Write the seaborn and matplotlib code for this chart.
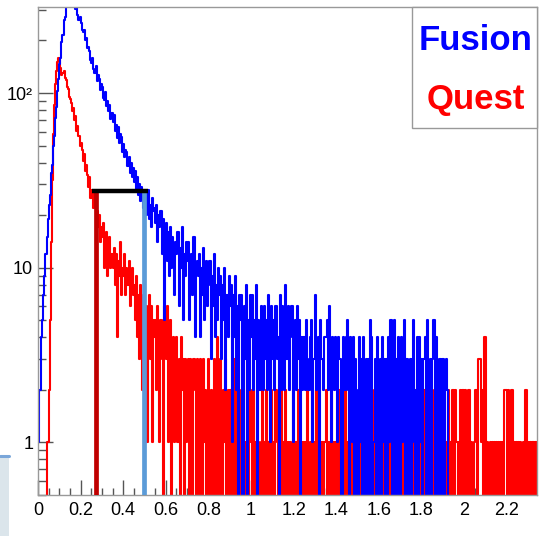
import numpy as np
import pandas as pd
import matplotlib
matplotlib.use("Agg")
import matplotlib.pyplot as plt
import seaborn as sns
from matplotlib.patches import Rectangle
from matplotlib.lines import Line2D
from matplotlib.ticker import FixedLocator, LogLocator, NullFormatter, MultipleLocator

# ---------------- data (bin width 0.005, starting at 0) ----------------
bin_width = 0.005

fusion_counts = [
    1, 2, 2, 4, 5, 7, 9, 12, 15, 19,
    23, 26, 35, 39, 50, 57, 72, 83, 103, 120,
    146, 158, 197, 214, 262, 271, 318, 341, 329, 356,
    342, 361, 333, 339, 331, 304, 309, 279, 262, 271,
    253, 231, 224, 229, 201, 207, 181, 184, 175, 154,
    149, 158, 137, 131, 142, 118, 127, 120, 104, 113,
    109, 94, 91, 101, 84, 90, 79, 86, 71, 77,
    68, 75, 61, 66, 55, 64, 52, 58, 56, 46,
    51, 43, 47, 46, 38, 43, 35, 40, 33, 37,
    31, 36, 28, 33, 26, 30, 24, 29, 27, 22,
    27, 20, 25, 28, 19, 23, 17, 25, 21, 22,
    18, 23, 14, 20, 17, 21, 12, 19, 5, 17,
    18, 11, 16, 9, 17, 10, 15, 12, 7, 14,
    12, 16, 6, 13, 10, 17, 5, 12, 9, 14,
    11, 14, 5, 9, 12, 7, 15, 4, 10, 11,
    9, 12, 4, 10, 7, 13, 5, 9, 11, 6,
    8, 11, 3, 9, 6, 12, 4, 8, 5, 10,
    7, 9, 3, 8, 5, 10, 2, 7, 4, 9,
    6, 8, 1, 7, 4, 9, 2, 6, 0, 7,
    5, 7, 0, 6, 3, 8, 0, 5, 2, 7,
    4, 7, 2, 5, 3, 8, 0, 5, 2, 6,
    4, 2, 6, 3, 5, 2, 7, 3, 1, 6,
    3, 5, 2, 6, 3, 4, 0, 7, 2, 6,
    4, 2, 8, 3, 3, 6, 2, 4, 6, 1,
    3, 5, 2, 6, 3, 5, 0, 4, 2, 4,
    4, 2, 5, 3, 2, 4, 5, 1, 3, 3,
    7, 2, 3, 4, 0, 5, 3, 3, 2, 4,
    4, 5, 2, 6, 3, 1, 4, 3, 2, 4,
    3, 1, 4, 3, 3, 0, 4, 2, 2, 4,
    5, 2, 0, 4, 3, 1, 4, 0, 3, 2,
    0, 4, 1, 3, 0, 4, 2, 0, 3, 0,
    3, 0, 5, 4, 0, 1, 3, 0, 4, 0,
    2, 3, 0, 4, 1, 3, 0, 3, 0, 4,
    1, 5, 0, 4, 5, 0, 3, 0, 4, 1,
    0, 4, 1, 3, 5, 0, 3, 0, 2, 3,
    0, 3, 5, 1, 0, 2, 4, 0, 4, 1,
    3, 0, 3, 4, 0, 5, 0, 2, 3, 0,
    3, 5, 5, 0, 4, 1, 0, 3, 0, 3,
    3, 0, 2, 3, 2, 0, 0, 0, 0, 0,
    0, 0, 0, 0, 0, 0, 0, 0, 0, 0,
    0, 0, 0, 0, 0, 0, 0, 0, 0, 0,
    0, 0, 0, 0, 0, 0, 0, 0, 0, 0,
    0, 0, 0, 0, 0, 0, 0, 0, 0, 0,
    0, 0, 0, 0, 0, 0, 0, 0, 0, 0,
    0, 0, 0, 0, 0, 0, 0, 0, 0, 0,
    0, 0, 0, 0, 0, 0, 0, 0, 0, 0,
    0, 0, 0, 0, 0, 0, 0, 0, 0, 0,
]

quest_counts = [
    0, 0, 0, 0, 0, 0, 0, 0, 1, 1,
    2, 5, 14, 32, 58, 86, 112, 133, 150, 158,
    154, 139, 127, 131, 133, 122, 119, 108, 106, 95,
    93, 88, 79, 82, 70, 74, 61, 65, 57, 50,
    52, 47, 41, 45, 36, 39, 34, 29, 33, 25,
    28, 25, 22, 27, 18, 21, 17, 20, 14, 17,
    15, 18, 10, 14, 16, 9, 13, 15, 10, 12,
    10, 13, 8, 12, 4, 11, 9, 14, 7, 10,
    9, 12, 7, 10, 8, 11, 6, 9, 10, 7,
    8, 5, 9, 4, 7, 3, 8, 5, 2, 7,
    4, 6, 1, 5, 7, 3, 6, 1, 5, 4,
    5, 2, 6, 4, 1, 5, 3, 0, 6, 4,
    3, 6, 1, 4, 5, 0, 3, 4, 1, 3,
    4, 1, 3, 0, 4, 2, 3, 0, 3, 1,
    2, 3, 0, 3, 1, 0, 3, 2, 0, 3,
    2, 0, 3, 1, 0, 3, 1, 2, 0, 1,
    3, 0, 2, 1, 0, 3, 1, 0, 4, 2,
    0, 3, 1, 0, 2, 1, 3, 0, 2, 0,
    2, 1, 0, 2, 3, 0, 1, 2, 0, 2,
    1, 0, 2, 1, 0, 1, 3, 0, 1, 2,
    1, 0, 2, 0, 1, 0, 2, 1, 0, 1,
    2, 0, 1, 0, 2, 0, 1, 1, 0, 2,
    0, 1, 0, 2, 1, 0, 1, 0, 2, 0,
    1, 0, 2, 1, 0, 1, 0, 1, 0, 2,
    1, 0, 1, 0, 2, 0, 1, 1, 0, 1,
    0, 1, 0, 2, 0, 1, 0, 2, 1, 0,
    1, 2, 0, 1, 0, 1, 0, 1, 0, 1,
    2, 0, 1, 0, 1, 2, 0, 1, 0, 1,
    0, 1, 0, 2, 0, 1, 0, 1, 2, 0,
    1, 0, 2, 0, 1, 0, 1, 2, 0, 1,
    0, 1, 0, 2, 1, 0, 1, 0, 1, 2,
    1, 0, 1, 0, 2, 0, 1, 0, 1, 0,
    1, 0, 2, 1, 0, 1, 0, 1, 2, 0,
    1, 0, 1, 2, 0, 1, 0, 1, 0, 1,
    0, 2, 0, 1, 0, 1, 2, 0, 1, 0,
    1, 0, 1, 0, 2, 1, 0, 1, 0, 2,
    1, 0, 2, 0, 1, 0, 2, 1, 0, 1,
    2, 0, 1, 0, 2, 1, 0, 1, 2, 0,
    1, 0, 1, 0, 1, 2, 0, 1, 0, 2,
    2, 0, 2, 1, 0, 1, 2, 0, 2, 2,
    0, 2, 1, 0, 2, 2, 0, 1, 0, 1,
    2, 2, 0, 3, 3, 3, 1, 2, 0, 4,
    4, 0, 1, 0, 1, 0, 1, 0, 1, 0,
    1, 0, 1, 0, 1, 0, 1, 0, 2, 2,
    0, 2, 1, 0, 2, 2, 0, 1, 0, 1,
    0, 1, 0, 1, 0, 1, 0, 2, 2, 0,
    1, 0, 1, 0, 1, 1, 0, 1, 0, 1,
]

series_names = ["Fusion", "Quest"]
series_colors = ["#0000ff", "#ff0000"]
draw_order = ["Quest", "Fusion"]   # Fusion is drawn over Quest

x_tick_values = [0, 0.2, 0.4, 0.6, 0.8, 1.0, 1.2, 1.4, 1.6, 1.8, 2.0, 2.2]
x_tick_labels = ["0", "0.2", "0.4", "0.6", "0.8", "1", "1.2", "1.4", "1.6", "1.8", "2", "2.2"]
y_tick_values = [1, 10, 100]
y_tick_labels = ["1", "10", "10\u00b2"]

# width marker: level and the two crossing points
cut_level = 27.5
quest_cut_x = 0.27
fusion_cut_x = 0.50
cut_bar_start = 0.254
cut_bar_end = 0.516

# ---------------- figure ----------------
sns.set_theme(style="ticks")
plt.rcParams["font.family"] = ["Liberation Sans", "DejaVu Sans"]

W, H = 540, 536
fig = plt.figure(figsize=(W / 100, H / 100), dpi=100)
fig.patch.set_facecolor("white")
ax = fig.add_axes([38 / W, (H - 495) / H, (537 - 38) / W, (495 - 7) / H])
ax.set_facecolor("white")

frames = []
for name, counts in zip(series_names, [fusion_counts, quest_counts]):
    c = np.asarray(counts, dtype=float)
    edges = np.arange(len(c) + 1) * bin_width
    y = np.where(c > 0, c, 1e-3)
    y = np.append(y, y[-1])
    frames.append(pd.DataFrame({"x": edges, "y": y, "series": name}))
df = pd.concat(frames, ignore_index=True)

sns.lineplot(data=df, x="x", y="y", hue="series", hue_order=draw_order,
             palette=dict(zip(series_names, series_colors)),
             estimator=None, sort=False, drawstyle="steps-post",
             lw=1.5, legend=False, ax=ax)

ax.set_yscale("log")
ax.set_ylim(0.5, 311)
ax.set_xlim(0, 2.343)
ax.set_xlabel("")
ax.set_ylabel("")

# width markers
ax.vlines(quest_cut_x, 1e-3, cut_level, color="#c00000", lw=3.4, zorder=5)
ax.vlines(fusion_cut_x, 1e-3, cut_level, color="#5b9bd8", lw=3.4, zorder=5)
ax.hlines(cut_level, cut_bar_start, cut_bar_end, color="black", lw=3.2, zorder=6)

# ticks
ax.xaxis.set_major_locator(FixedLocator(x_tick_values))
ax.set_xticklabels(x_tick_labels)
ax.xaxis.set_minor_locator(MultipleLocator(0.05))
ax.yaxis.set_major_locator(FixedLocator(y_tick_values))
ax.set_yticklabels(y_tick_labels)
ax.yaxis.set_minor_locator(LogLocator(base=10, subs=np.arange(2, 10) * 1.0, numticks=30))
ax.yaxis.set_minor_formatter(NullFormatter())

ax.tick_params(axis="both", which="both", direction="in", top=False, right=False,
               bottom=True, left=True, color="#555555", width=1.0,
               labelcolor="black", labelsize=13)
ax.tick_params(axis="both", which="major", length=10.8)
ax.tick_params(axis="both", which="minor", length=5.4)
ax.tick_params(axis="x", which="major", pad=5)
ax.tick_params(axis="y", which="major", pad=3.5)

for s in ax.spines.values():
    s.set_color("#999999")
    s.set_linewidth(1.0)

# legend box with coloured labels
box = Rectangle((412 / W, (H - 128) / H), (537 - 412) / W, (128 - 7) / H,
                transform=fig.transFigure, facecolor="white", edgecolor="#999999",
                lw=1.0, zorder=10)
fig.add_artist(box)
fig.text(475.5 / W, 1 - 50 / H, series_names[0], color=series_colors[0], fontsize=25,
         fontweight="bold", ha="center", va="baseline", zorder=11)
fig.text(475.5 / W, 1 - 109 / H, series_names[1], color=series_colors[1], fontsize=25,
         fontweight="bold", ha="center", va="baseline", zorder=11)

# small window fragment at bottom-left
fig.add_artist(Rectangle((0, 0), 9 / W, 79 / H, transform=fig.transFigure,
                         facecolor="#dbe5eb", edgecolor="none", zorder=1))
fig.add_artist(Line2D([0, 9 / W], [80 / H, 80 / H], transform=fig.transFigure,
                      color="#7aa6d9", lw=2.2, zorder=2))

fig.savefig("out.png", dpi=100, facecolor="white")
